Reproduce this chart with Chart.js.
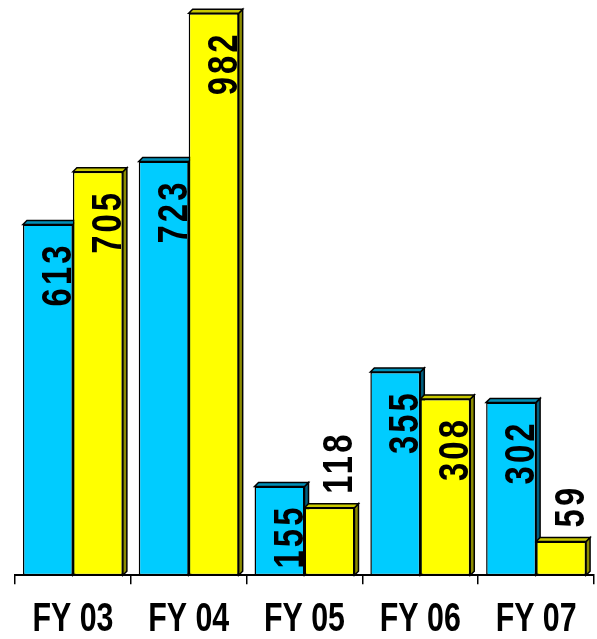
<!DOCTYPE html>
<html>
<head>
<meta charset="utf-8">
<script src="https://cdn.jsdelivr.net/npm/chart.js@4/dist/chart.umd.min.js"></script>
<style>
    html, body { margin: 0; padding: 0; background: #fff; }
    #wrap { width: 597px; height: 639px; position: relative; }
</style>
</head>
<body>
<div id="wrap"><canvas id="barChart"></canvas></div>
<script>
const categories = ['FY 03', 'FY 04', 'FY 05', 'FY 06', 'FY 07'];
const cyanValues = [613, 723, 155, 355, 302];
const yellowValues = [705, 982, 118, 308, 59];
const yTicks = [0, 1000];

const fontFamily = "'Liberation Sans', Arial, sans-serif";
const depth = 4;

// side + top faces behind the front faces, then the labels
const bar3d = {
    id: 'bar3d',
    beforeDatasetsDraw(chart) {
        const ctx = chart.ctx;
        chart.data.datasets.forEach((ds, i) => {
            chart.getDatasetMeta(i).data.forEach(bar => {
                const l = bar.x - bar.width / 2, r = bar.x + bar.width / 2;
                const t = bar.y, b = bar.base;
                ctx.save();
                ctx.lineWidth = 1.5;
                ctx.strokeStyle = '#000';
                ctx.fillStyle = ds.sideColor;
                ctx.beginPath();
                ctx.moveTo(r, t);
                ctx.lineTo(r + depth, t - depth);
                ctx.lineTo(r + depth, b - depth);
                ctx.lineTo(r, b);
                ctx.closePath();
                ctx.fill();
                ctx.stroke();
                ctx.fillStyle = ds.topColor;
                ctx.beginPath();
                ctx.moveTo(l, t);
                ctx.lineTo(l + depth, t - depth);
                ctx.lineTo(r + depth, t - depth);
                ctx.lineTo(r, t);
                ctx.closePath();
                ctx.fill();
                ctx.stroke();
                ctx.restore();
            });
        });
    },
    afterDatasetsDraw(chart) {
        const ctx = chart.ctx;
        const squeeze = 0.78;
        ctx.save();
        ctx.font = 'bold 42px ' + fontFamily;
        ctx.letterSpacing = '4px';
        ctx.fillStyle = '#000';
        ctx.textBaseline = 'alphabetic';
        chart.data.datasets.forEach((ds, i) => {
            chart.getDatasetMeta(i).data.forEach((bar, j) => {
                const txt = String(ds.data[j]);
                const w = ctx.measureText(txt).width * squeeze;
                const h = bar.base - bar.y;
                const inside = h > w + 15;
                ctx.save();
                ctx.translate(bar.x + 23, inside ? bar.y + 18 : bar.y - 14);
                ctx.rotate(-Math.PI / 2);
                ctx.scale(squeeze, 1);
                ctx.textAlign = inside ? 'right' : 'left';
                ctx.fillText(txt, 0, 0);
                ctx.restore();
            });
        });
        ctx.restore();
    },
    afterDraw(chart) {
        // condensed category labels
        const ctx = chart.ctx;
        const xs = chart.scales.x;
        ctx.save();
        ctx.font = 'bold 41px ' + fontFamily;
        ctx.fillStyle = '#000';
        ctx.textAlign = 'center';
        ctx.textBaseline = 'alphabetic';
        chart.data.labels.forEach((lab, i) => {
            ctx.save();
            ctx.translate(xs.getPixelForValue(i), 631);
            ctx.scale(0.74, 1);
            ctx.fillText(lab, 0, 0);
            ctx.restore();
        });
        ctx.restore();
    }
};

new Chart(document.getElementById('barChart'), {
    type: 'bar',
    data: {
        labels: categories,
        datasets: [{
            data: cyanValues,
            backgroundColor: '#00CCFF',
            sideColor: '#005f80',
            topColor: '#0090b8',
            borderColor: '#000',
            borderWidth: 1.5,
            borderSkipped: false
        }, {
            data: yellowValues,
            backgroundColor: '#FFFF00',
            sideColor: '#8c8c00',
            topColor: '#c8c800',
            borderColor: '#000',
            borderWidth: 1.5,
            borderSkipped: false
        }]
    },
    options: {
        responsive: true,
        maintainAspectRatio: false,
        animation: false,
        categoryPercentage: 0.863,
        barPercentage: 1.0,
        layout: { padding: { left: 15, right: 3, top: 3, bottom: 0 } },
        plugins: { legend: { display: false }, tooltip: { enabled: false } },
        scales: {
            y: {
                display: false,
                min: yTicks[0],
                max: yTicks[1]
            },
            x: {
                grid: {
                    offset: true,
                    drawOnChartArea: false,
                    drawTicks: true,
                    tickLength: 9,
                    color: '#000',
                    lineWidth: 1.5
                },
                border: { color: '#000', width: 2 },
                ticks: {
                    color: 'rgba(0,0,0,0)',
                    padding: 4,
                    maxRotation: 0,
                    minRotation: 0,
                    autoSkip: false,
                    font: { family: fontFamily, size: 39, weight: 'bold' }
                }
            }
        }
    },
    plugins: [bar3d]
});
</script>
</body>
</html>
